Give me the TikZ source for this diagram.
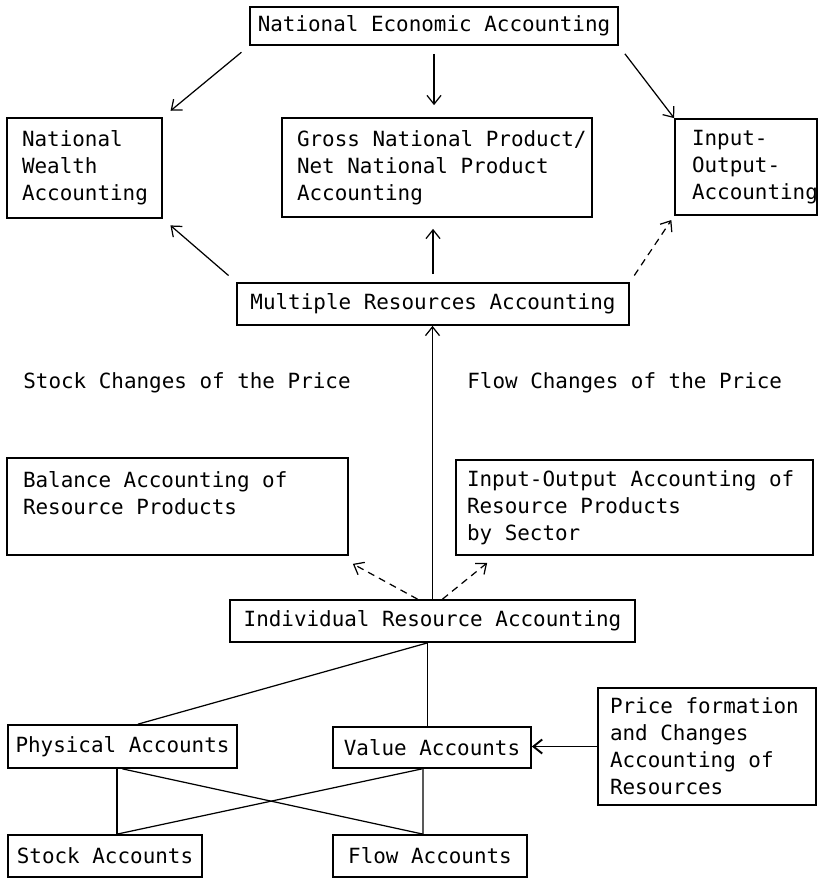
\documentclass[tikz,border=0pt]{standalone}
\usepackage{fontspec}
\setmonofont{DejaVu Sans Mono}
\usepackage{tikz}
\usetikzlibrary{positioning, arrows.meta, shapes}
\tikzset{
    acct/.style={draw, rectangle, line width=1pt, inner ysep=0pt, font=\ttfamily\fontsize{11.9}{15.4}\selectfont},
    accL/.style={acct, align=left, execute at begin node={\spaceskip=0.602em\xspaceskip=0.602em\relax}},
    lbl/.style={font=\ttfamily\fontsize{11.9}{15.4}\selectfont, anchor=west, inner sep=0pt},
    conn/.style={-, line width=0.7pt},
    arr/.style={conn, -{Straight Barb[length=5pt, width=8pt]}},
    darr/.style={arr, dash pattern=on 4pt off 3pt},
}
\begin{document}
\begin{tikzpicture}[x=0.02cm, y=-0.02cm]
            \useasboundingbox (0,0) rectangle (818,878);

            \node[acct, minimum width=7.36cm, minimum height=0.76cm] (nea) at (434,26) {National Economic Accounting};
            \node[accL, text width=2.5cm, inner xsep=0.3cm, minimum height=2cm] (nwa) at (84.5,168) {National\\Wealth\\Accounting};
            \node[accL, text width=5.6cm, inner xsep=0.3cm, minimum height=1.98cm] (gnp) at (437,167.5) {\mbox{Gross National Product/}\\\mbox{Net National Product}\\Accounting};
            \node[accL, text width=2.16cm, inner xsep=0.34cm, minimum height=1.92cm] (io) at (746,167) {Input-\\Output-\\Accounting};
            \node[acct, minimum width=7.84cm, minimum height=0.84cm] (mra) at (433,304) {Multiple Resources Accounting};

            \node[lbl] (stk) at (23,383) {Stock Changes of the Price};
            \node[lbl] (flw) at (467,383) {Flow Changes of the Price};

            \node[accL, text width=6.18cm, inner xsep=0.32cm, minimum height=1.94cm] (barp) at (177.5,506.5) {Balance Accounting of\\Resource Products\\\mbox{}};
            \node[accL, text width=6.7cm, inner xsep=0.22cm, minimum height=1.9cm] (ioarp) at (634.5,507.5) {Input-Output Accounting of\\Resource Products\\by Sector};
            \node[acct, minimum width=8.1cm, minimum height=0.84cm] (ira) at (432.5,621) {Individual Resource Accounting};

            \node[acct, minimum width=4.58cm, minimum height=0.86cm] (phys) at (122.5,746.5) {Physical Accounts};
            \node[acct, minimum width=3.96cm, minimum height=0.82cm] (val) at (432,747.5) {Value Accounts};
            \node[accL, text width=3.88cm, inner xsep=0.24cm, minimum height=2.34cm] (price) at (707,746.5) {Price formation\\and Changes\\Accounting of\\Resources};
            \node[acct, minimum width=3.88cm, minimum height=0.84cm] (stock) at (105,856) {Stock Accounts};
            \node[acct, minimum width=3.88cm, minimum height=0.84cm] (flow) at (430,856) {Flow Accounts};

            % upper part
            \draw[arr, shorten <=0.2cm, shorten >=0.2cm] (nea.south west) -- (nwa.north east);
            \draw[arr, shorten <=0.16cm, shorten >=0.24cm] (nea.south) -- (nea.south |- gnp.north);
            \draw[arr, shorten <=0.2cm] (nea.south east) -- (io.north west);
            \draw[arr, shorten <=0.2cm, shorten >=0.2cm] (mra.north west) -- (nwa.south east);
            \draw[arr, shorten <=0.16cm, shorten >=0.22cm] (mra.north) -- (mra.north |- gnp.south);
            \draw[darr, shorten <=0.16cm, shorten >=0.1cm] (mra.north east) -- (io.south west);

            % middle part
            \draw[arr] (ira.north) -- (ira.north |- mra.south);
            \draw[darr] ([xshift=-0.3cm]ira.north) -- ([xshift=0.08cm, yshift=-0.16cm]barp.south east);
            \draw[darr] ([xshift=0.2cm]ira.north) -- ([xshift=0.64cm, yshift=-0.14cm]ioarp.south west);

            % lower part
            \coordinate (irab) at ([xshift=-0.1cm]ira.south);
            \draw[conn] (irab) -- ([xshift=0.31cm]phys.north);
            \draw[conn] (irab) -- (irab |- val.north);
            \draw[conn] ([xshift=-0.11cm]phys.south) -- ([xshift=-0.11cm]phys.south |- stock.north);
            \draw[conn] (phys.south) -- ([xshift=-0.14cm]flow.north);
            \draw[conn] ([xshift=-0.2cm]val.south) -- ([xshift=0.24cm]stock.north);
            \draw[conn] ([xshift=-0.18cm]val.south) -- ([xshift=-0.14cm]flow.north);
            \draw[arr, line width=1.1pt] (price.west) -- (price.west -| val.east);
        \end{tikzpicture}
\end{document}
